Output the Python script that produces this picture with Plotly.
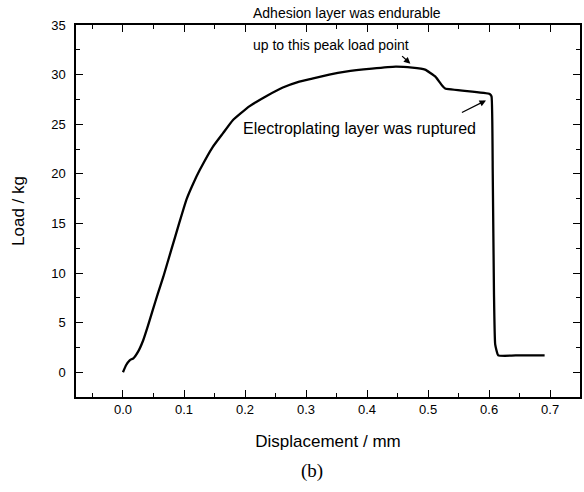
import plotly.graph_objects as go

# Data
displacement_mm = [0, 0.005, 0.011, 0.017, 0.025, 0.033, 0.041, 0.049, 0.057, 0.066,
                   0.079, 0.092, 0.104, 0.115, 0.126, 0.147, 0.164, 0.18, 0.207, 0.234,
                   0.262, 0.289, 0.31, 0.338, 0.365, 0.408, 0.447, 0.474, 0.495, 0.512,
                   0.523, 0.528, 0.601, 0.604, 0.606, 0.608, 0.610, 0.615, 0.65, 0.691]
load_kg = [0, 0.7, 1.2, 1.4, 2.1, 3.2, 4.7, 6.3, 7.9, 9.6,
           12.3, 15.0, 17.4, 19.0, 20.4, 22.7, 24.1, 25.4, 26.8, 27.8,
           28.7, 29.3, 29.6, 30.0, 30.3, 30.6, 30.8, 30.7, 30.5, 29.8,
           28.9, 28.6, 28.05, 27.8, 20, 8, 2.8, 1.7, 1.7, 1.7]

x_ticks = [0.0, 0.1, 0.2, 0.3, 0.4, 0.5, 0.6, 0.7]
x_tick_labels = ["0.0", "0.1", "0.2", "0.3", "0.4", "0.5", "0.6", "0.7"]
y_ticks = [0, 5, 10, 15, 20, 25, 30, 35]
y_tick_labels = ["0", "5", "10", "15", "20", "25", "30", "35"]

FONT = "Liberation Sans, Arial, sans-serif"

fig = go.Figure()
fig.add_trace(go.Scatter(x=displacement_mm, y=load_kg, mode="lines",
                         line=dict(color="black", width=2.3, shape="spline", smoothing=0.35),
                         showlegend=False))

axis_common = dict(
    showline=True, linecolor="black", linewidth=1.5, mirror="allticks",
    ticks="inside", ticklen=7, tickwidth=1.2, tickcolor="black",
    showgrid=False, zeroline=False,
    tickfont=dict(family=FONT, size=13, color="black"),
)

fig.update_layout(
    width=584, height=492,
    margin=dict(l=76, r=2, t=25, b=95),
    paper_bgcolor="white", plot_bgcolor="white",
    font=dict(family=FONT, color="black"),
    xaxis=dict(range=[-0.077, 0.749], tickvals=x_ticks, ticktext=x_tick_labels,
               minor=dict(dtick=0.05, tick0=0, ticks="inside", ticklen=4, tickwidth=1.2, tickcolor="black"),
               title=dict(text="Displacement / mm", font=dict(family=FONT, size=17), standoff=19),
               **axis_common),
    yaxis=dict(range=[-2.5, 35], tickvals=y_ticks, ticktext=y_tick_labels,
               minor=dict(dtick=2.5, tick0=0, ticks="inside", ticklen=4, tickwidth=1.2, tickcolor="black"),
               title=dict(text="Load / kg", font=dict(family=FONT, size=17), standoff=22),
               ticklabelstandoff=6,
               **axis_common),
)

# Text annotations
fig.add_annotation(x=0.5375, y=1.032, xref="paper", yref="paper", text="Adhesion layer was endurable",
                   showarrow=False, xanchor="center", yanchor="middle",
                   font=dict(family=FONT, size=14, color="black"))
fig.add_annotation(x=0.341, y=33.0, xref="x", yref="y", text="up to this peak load point",
                   showarrow=False, font=dict(family=FONT, size=14, color="black"))
fig.add_annotation(x=0.388, y=24.6, xref="x", yref="y", text="Electroplating layer was ruptured",
                   showarrow=False, font=dict(family=FONT, size=16, color="black"))

# Arrows
fig.add_annotation(x=0.471, y=31.1, ax=0.455, ay=32.0, xref="x", yref="y", axref="x", ayref="y",
                   text="", showarrow=True, arrowhead=2, arrowsize=1, arrowwidth=1.3, arrowcolor="black")
fig.add_annotation(x=0.595, y=27.4, ax=0.553, ay=26.1, xref="x", yref="y", axref="x", ayref="y",
                   text="", showarrow=True, arrowhead=2, arrowsize=1, arrowwidth=1.3, arrowcolor="black")

# Figure label
fig.add_annotation(x=0.468, y=-0.2, xref="paper", yref="paper", text="(b)", showarrow=False,
                   xanchor="center", yanchor="middle",
                   font=dict(family="Liberation Serif, Times New Roman, serif", size=19, color="black"))

fig.write_html("out.html")
